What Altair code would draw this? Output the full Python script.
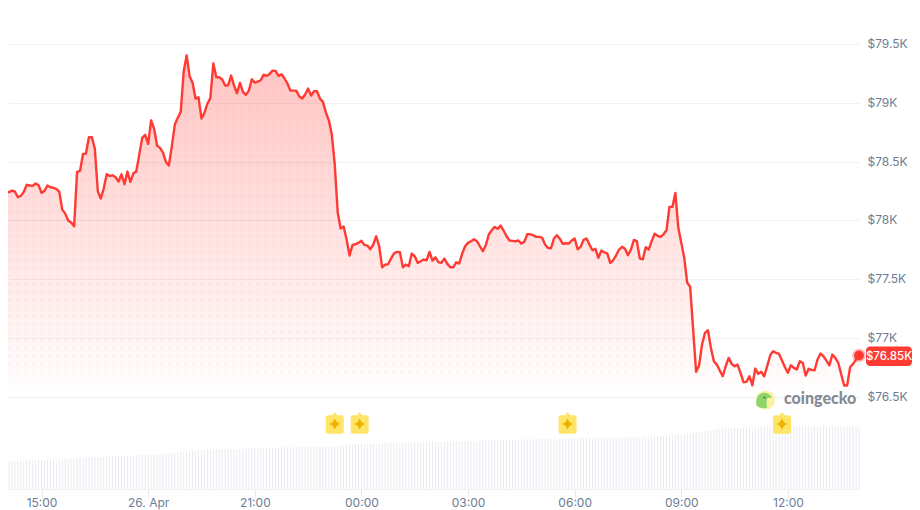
import datetime as dt
import altair as alt
import pandas as pd

prices = [
    78247,78239,78253,78245,78196,78208,78242,78302,78296,78293,
    78313,78298,78233,78251,78296,78281,78276,78268,78242,78091,
    78057,77998,77981,77949,78412,78421,78565,78568,78707,78707,
    78608,78247,78185,78270,78392,78378,78383,78366,78330,78392,
    78307,78415,78327,78398,78417,78559,78702,78727,78650,78851,
    78781,78636,78616,78576,78497,78466,78630,78815,78872,78923,
    79268,79404,79226,79170,79036,79047,78866,78914,78993,79039,
    79336,79217,79217,79198,79147,79149,79232,79147,79081,79170,
    79093,79067,79104,79200,79172,79181,79192,79240,79229,79246,
    79274,79272,79229,79243,79209,79166,79104,79104,79104,79056,
    79036,79070,79121,79062,79098,79098,79036,79008,78919,78851,
    78730,78474,78066,77930,77947,77836,77700,77791,77796,77808,
    77825,77791,77785,77754,77794,77864,77779,77600,77623,77626,
    77674,77719,77731,77728,77600,77623,77609,77717,77694,77638,
    77651,77666,77660,77731,77657,77685,77643,77638,77674,77629,
    77600,77600,77643,77632,77714,77779,77808,77822,77839,77822,
    77779,77737,77788,77879,77915,77944,77927,77955,77913,77864,
    77828,77825,77822,77828,77802,77816,77881,77881,77873,77859,
    77859,77853,77794,77765,77762,77845,77873,77842,77800,77805,
    77802,77828,77845,77754,77774,77833,77845,77794,77745,77757,
    77680,77742,77728,77719,77638,77660,77702,77751,77774,77757,
    77702,77751,77833,77822,77674,77668,77771,77751,77822,77885,
    77868,77859,77881,77915,78114,78114,78233,77936,77808,77680,
    77468,77434,77070,76710,76764,76943,77042,77064,76914,76800,
    76772,76721,76673,76758,76829,76778,76758,76772,76702,76622,
    76625,76673,76596,76738,76693,76710,76673,76758,76849,76886,
    76872,76863,76806,76749,76702,76766,76744,76730,76800,76787,
    76679,76736,76727,76724,76815,76866,76843,76806,76766,76857,
    76829,76787,76687,76594,76594,76749,76778,76815,76850,
]

volumes = [
    14.0,14.0,14.1,14.0,14.1,14.2,14.1,14.3,14.3,
    14.4,14.3,14.5,14.5,14.4,14.6,14.7,14.6,14.8,14.8,14.9,15.0,14.9,15.1,15.2,15.3,
    15.6,15.5,15.6,15.7,15.8,15.9,16.0,16.1,
    16.1,16.2,16.2,16.3,16.3,16.4,16.4,16.5,16.5,16.6,16.6,
    16.8,16.9,17.0,17.1,17.2,17.3,
    17.0,17.3,17.5,17.6,17.7,17.8,
    18.0,18.2,18.4,18.5,18.7,18.9,19.0,
    19.1,19.2,19.4,19.5,19.6,19.7,19.8,
    19.7,19.9,20.0,19.8,20.0,20.1,19.9,20.1,20.0,20.1,
    20.2,20.2,20.3,20.3,20.4,20.4,20.5,
    20.5,20.6,20.6,20.6,20.7,20.7,20.8,20.8,20.9,20.9,20.9,21.0,21.0,
    21.0,21.1,21.0,21.0,21.1,21.0,21.0,20.9,21.0,21.0,21.0,
    21.2,21.5,21.7,21.9,22.1,
    22.2,22.2,22.3,22.3,22.4,22.4,22.5,22.5,22.6,22.6,22.7,22.7,22.8,22.8,22.9,23.0,23.0,23.1,
    23.1,23.1,23.2,23.2,23.3,23.3,23.4,23.3,23.4,23.5,
    23.5,23.6,23.5,23.6,23.7,23.7,23.8,23.8,23.7,23.9,
    23.9,24.0,24.0,24.1,24.0,24.2,24.2,24.3,24.2,24.3,
    24.4,24.4,24.5,24.4,24.5,24.6,24.6,24.7,24.6,24.7,
    24.8,24.8,24.9,24.8,24.9,25.0,25.0,
    25.0,25.1,25.1,25.1,25.2,25.2,25.2,25.3,25.3,25.3,25.3,25.4,25.4,25.4,25.5,25.5,25.5,25.5,25.6,25.6,25.6,
    25.7,25.7,25.7,25.8,25.8,25.8,25.8,25.9,25.9,25.9,26.0,26.0,26.0,
    26.1,26.1,26.2,26.2,26.3,26.3,26.4,26.5,26.5,26.6,
    26.8,26.9,27.1,27.2,27.4,27.6,27.8,28.0,28.3,28.6,
    28.9,29.1,29.3,29.6,29.8,30.1,30.3,
    30.3,30.4,30.4,30.4,30.5,30.5,30.5,30.6,30.6,30.6,
    30.7,30.8,30.9,31.0,31.1,31.2,31.3,
    31.3,31.3,31.2,31.3,31.3,31.3,31.2,31.3,31.3,31.3,
    31.2,31.0,31.1,31.2,31.3,31.3,31.3,31.2,31.0,31.2,
    31.3,31.3,31.3,31.2,31.3,31.3,31.2,31.3,31.3,31.3,
]
assert len(prices) == 289, len(prices)
assert len(volumes) == 289, len(volumes)

y_ticks = [76500, 77000, 77500, 78000, 78500, 79000, 79500]
x_tick_hours = [1, 4, 7, 10, 13, 16, 19, 22]
flag_minutes = [555, 597, 948, 1310]
last_label = "$76.85K"

FONT = "Inter"
RED = "#ff3a33"
GRID = "#eff1f5"
LABEL = "#6c7c94"

base = int(dt.datetime(2026, 4, 25, 14, tzinfo=dt.timezone.utc).timestamp() * 1000)
STEP = 300000
times = [base + i * STEP for i in range(len(prices))]
df = pd.DataFrame({"t": times, "price": prices, "vol": volumes, "zero": [0] * len(prices), "floor": [76500] * len(prices)})

x_scale = alt.Scale(type="utc", domain=[base + 202500, times[-1]])
y_scale = alt.Scale(domain=[75713, 79807], nice=False, zero=False)
v_scale = alt.Scale(domain=[0, 240.5], nice=False, zero=True)

x_axis = alt.Axis(
    values=[base + h * 3600000 for h in x_tick_hours],
    labelExpr="utcFormat(datum.value,'%H:%M')=='18:00' ? '26. Apr' : utcFormat(datum.value,'%H:%M')",
    title=None, grid=False, domain=True, domainColor=GRID, ticks=True, tickColor="#e6e9ef",
    tickSize=8, labelPadding=0, labelFont=FONT, labelFontSize=12, labelColor=LABEL, labelFlush=False,
)
X = alt.X("t:T", scale=x_scale, axis=x_axis)

grid_layer = alt.Chart(df).mark_line(opacity=0).encode(
    x=X,
    y=alt.Y("price:Q", scale=y_scale, axis=alt.Axis(
        orient="right", values=y_ticks, labelExpr="'$' + datum.value/1000 + 'K'", title=None,
        domain=False, ticks=False, labelPadding=8, grid=True, gridColor=GRID, gridWidth=1,
        labelFont=FONT, labelFontSize=12, labelColor=LABEL, labelOffset=-0.5)),
)

vol_layer = alt.Chart(df).mark_rule(color="#e8ebf0", strokeWidth=1).encode(
    x=X,
    y=alt.Y("vol:Q", scale=v_scale, axis=None),
    y2=alt.Y2("zero:Q"),
)

area_layer = alt.Chart(df).mark_area(
    color=alt.Gradient(
        gradient="linear", x1=1, x2=1, y1=0, y2=1,
        stops=[alt.GradientStop(color="rgba(255,58,51,0.30)", offset=0),
               alt.GradientStop(color="rgba(255,58,51,0.0)", offset=1)]),
).encode(
    x=X,
    y=alt.Y("price:Q", scale=y_scale, axis=None, stack=None),
    y2=alt.Y2("floor:Q"),
)

# faint dotted texture inside the filled area
dots = []
for col in range(107):
    pos = 1.35 + col * 2.701
    top = prices[min(round(pos), len(prices) - 1)]
    for row in range(48):
        level = 76500 + row * 68.09
        if level < top - 20:
            dots.append({"t": base + pos * STEP, "level": level,
                         "a": 0.015 if row == 0 else (0.03 if row < 3 else 0.045)})
dot_layer = alt.Chart(pd.DataFrame(dots)).mark_circle(size=12, color="#ff3a33").encode(
    x=X, y=alt.Y("level:Q", scale=y_scale, axis=None),
    opacity=alt.Opacity("a:Q", scale=None, legend=None),
)

line_layer = alt.Chart(df).mark_line(color=RED, strokeWidth=2.4, strokeJoin="round").encode(
    x=X, y=alt.Y("price:Q", scale=y_scale, axis=None),
)

last = df.tail(1)
halo = alt.Chart(last).mark_circle(size=190, color=RED, opacity=0.3).encode(
    x=X, y=alt.Y("price:Q", scale=y_scale, axis=None))
dot = alt.Chart(last).mark_circle(size=100, color=RED, opacity=1).encode(
    x=X, y=alt.Y("price:Q", scale=y_scale, axis=None))

tag = alt.Chart(last).mark_rect(color=RED, cornerRadius=4).encode(
    x=alt.value(858), x2=alt.value(904), y=alt.value(338.5), y2=alt.value(358))
tag_text = alt.Chart(pd.DataFrame({"s": [last_label]})).mark_text(
    font=FONT, fontSize=11.5, fontWeight=500, color="#ffffff", align="center", baseline="middle"
).encode(x=alt.value(881), y=alt.value(348.5), text="s:N")

FLAG = ("M-0.9 -0.62 Q-0.9 -0.87 -0.65 -0.87 L-0.25 -0.87 L0 -1.2 L0.25 -0.87 L0.65 -0.87 "
        "Q0.9 -0.87 0.9 -0.62 L0.9 0.72 Q0.9 0.97 0.65 0.97 L-0.65 0.97 Q-0.9 0.97 -0.9 0.72 Z")
STAR = "M0 -0.58 Q0.12 -0.12 0.58 0 Q0.12 0.12 0 0.58 Q-0.12 0.12 -0.58 0 Q-0.12 -0.12 0 -0.58 Z"
flags_df = pd.DataFrame({"t": [base + m * 60000 for m in flag_minutes]})
flags = alt.Chart(flags_df).mark_point(shape=FLAG, size=400, filled=True, color="#ffe566", opacity=1).encode(
    x=X, y=alt.value(416))
stars = alt.Chart(flags_df).mark_point(shape=STAR, size=400, filled=True, color="#f0b000", opacity=1).encode(
    x=X, y=alt.value(416))

# CoinGecko watermark
logo_ring = alt.Chart(last).mark_circle(size=370, color="#f8f1a6", opacity=1).encode(
    x=alt.value(757.5), y=alt.value(392))
HEAD = "M-0.8 0.55 Q-0.95 -0.55 -0.15 -0.75 Q0.5 -0.8 0.85 -0.25 L0.4 -0.2 Q0.15 0.1 0.35 0.8 Q-0.4 1.0 -0.8 0.55 Z"
logo_head = alt.Chart(last).mark_point(shape=HEAD, size=360, filled=True, color="#8fd46a", opacity=1).encode(
    x=alt.value(756), y=alt.value(392))
logo_eye = alt.Chart(last).mark_circle(size=5, color="#5a6a50", opacity=1).encode(
    x=alt.value(756.5), y=alt.value(389.5))
brand = alt.Chart(pd.DataFrame({"s": ["coingecko"]})).mark_text(
    font="Lato", fontSize=16, fontWeight=900, color="#858a93", align="left", baseline="middle"
).encode(x=alt.value(776), y=alt.value(391), text="s:N")

chart = alt.layer(
    grid_layer, vol_layer, area_layer, dot_layer, line_layer, halo, dot, tag, tag_text,
    logo_ring, logo_head, logo_eye, brand, flags, stars,
).resolve_scale(y="independent").properties(
    width=851, height=481,
    autosize=alt.AutoSizeParams(type="none"),
    padding={"left": 0, "top": 0, "right": 53, "bottom": 21},
).configure_view(stroke=None)

chart.save("out.html", embed_options={"renderer": "svg", "actions": False})
